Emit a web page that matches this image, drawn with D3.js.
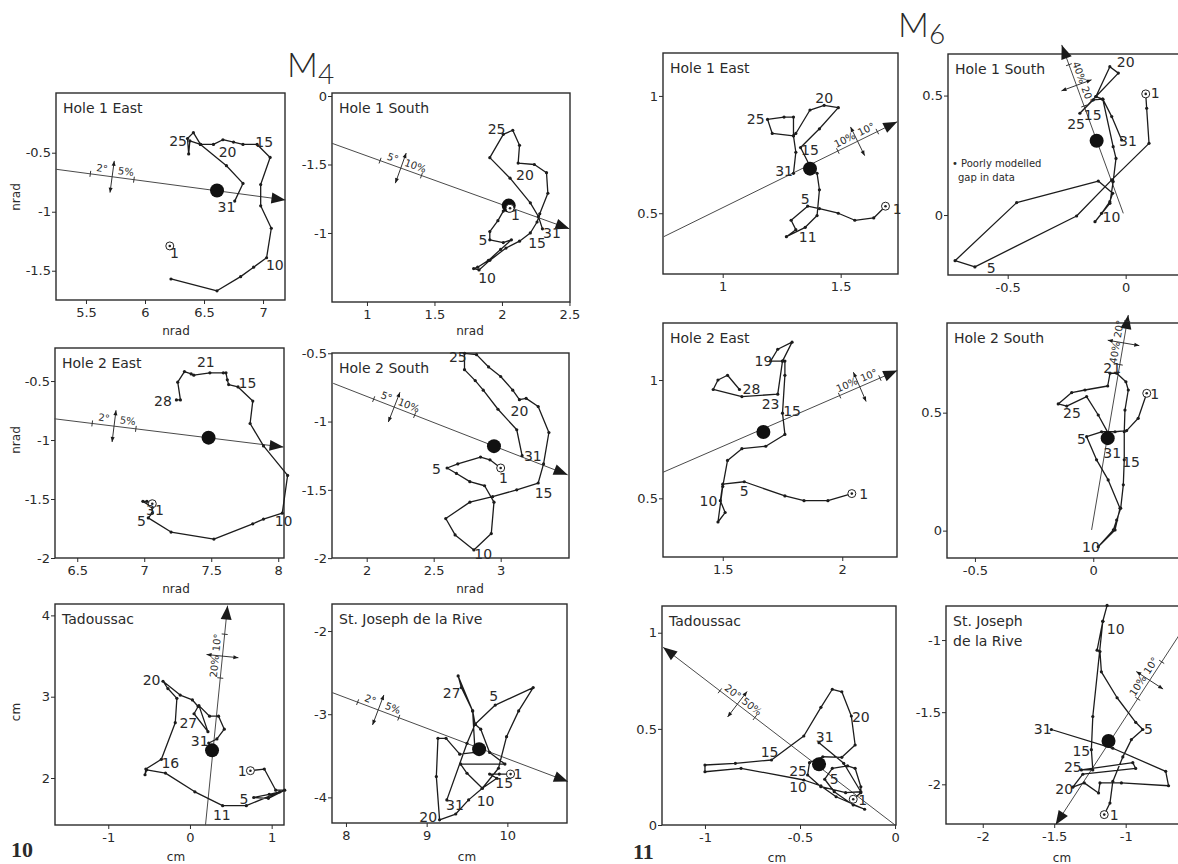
<!DOCTYPE html>
<html>
<head>
<meta charset="utf-8">
<script src="https://cdn.jsdelivr.net/npm/d3@7"></script>
<style>
  body { margin: 0; background: #fff; }
  svg text { font-family: "DejaVu Sans", sans-serif; fill: #2a2a2a; }
</style>
</head>
<body>
<div id="chart"></div>
<script>
const W = 1178, H = 864

// ---------- M4 (fig. 10) : daily tilt / displacement tracks ----------
const m4H1eTrack = [[6.22,-1.57],[6.61,-1.67],[6.81,-1.55],[6.92,-1.47],[7.03,-1.39],[7.07,-1.14],[6.98,-0.95],
  [6.98,-0.77],[7.06,-0.54],[6.95,-0.43],[6.83,-0.43],[6.75,-0.41],[6.66,-0.39],[6.58,-0.43],[6.47,-0.43],
  [6.41,-0.33],[6.36,-0.38],[6.37,-0.51],[6.38,-0.40],[6.47,-0.43],[6.69,-0.61],[6.83,-0.76],[6.76,-0.91]]
const m4H1sTrack = [[2.06,-0.82],[2.01,-0.84],[1.97,-0.91],[1.91,-0.99],[1.91,-1.05],[2.01,-1.07],[2.07,-1.05],
  [1.99,-1.12],[1.90,-1.20],[1.82,-1.25],[1.79,-1.26],[1.83,-1.27],[1.91,-1.20],[2.03,-1.11],[2.13,-1.06],
  [2.21,-1.00],[2.26,-0.92],[2.28,-0.86],[2.34,-0.71],[2.33,-0.56],[2.24,-0.50],[2.12,-0.49],[2.13,-0.36],
  [2.08,-0.25],[2.01,-0.28],[1.91,-0.45],[2.06,-0.60],[2.21,-0.78],[2.27,-0.88],[2.30,-0.97]]
const m4H2eTrack = [[7.06,-1.54],[7.02,-1.52],[6.99,-1.52],[7.06,-1.57],[7.06,-1.62],[7.03,-1.66],[7.20,-1.78],
  [7.52,-1.84],[7.81,-1.71],[7.89,-1.67],[8.03,-1.62],[8.07,-1.30],[7.89,-1.05],[7.79,-0.86],[7.81,-0.67],
  [7.70,-0.55],[7.63,-0.53],[7.62,-0.49],[7.61,-0.43],[7.59,-0.43],[7.49,-0.43],[7.37,-0.45],[7.35,-0.44],
  [7.30,-0.42],[7.25,-0.51],[7.27,-0.66],[7.24,-0.66]]
const m4H2sTrack = [[3.00,-1.34],[2.92,-1.28],[2.85,-1.26],[2.68,-1.31],[2.60,-1.34],[2.67,-1.38],[2.77,-1.44],
  [2.88,-1.47],[2.95,-1.59],[2.93,-1.82],[2.80,-1.94],[2.66,-1.83],[2.59,-1.71],[2.77,-1.59],[2.94,-1.55],
  [3.12,-1.50],[3.28,-1.45],[3.32,-1.31],[3.36,-1.08],[3.28,-0.89],[3.19,-0.83],[3.14,-0.84],[3.09,-0.77],
  [3.00,-0.67],[2.91,-0.60],[2.82,-0.51],[2.73,-0.50],[2.73,-0.62],[2.81,-0.70],[2.87,-0.77],[2.98,-0.91],
  [3.12,-1.06],[3.16,-1.25]]
const m4TadTrack = [[0.74,2.09],[0.91,2.11],[1.05,1.85],[1.16,1.85],[0.96,1.75],[0.78,1.76],[0.97,1.80],
  [1.10,1.83],[0.69,1.66],[0.40,1.66],[0.06,1.83],[-0.30,2.06],[-0.53,2.10],[-0.55,2.04],[-0.54,2.11],
  [-0.35,2.23],[-0.18,2.68],[-0.16,2.98],[-0.27,3.10],[-0.33,3.19],[-0.12,3.02],[0.03,2.96],[0.10,2.88],
  [0.05,2.79],[0.22,2.57],[0.11,2.89],[0.24,2.76],[0.35,2.76],[0.42,2.60],[0.33,2.48],[0.23,2.43]]
const m4StjTrack = [[10.04,-3.72],[9.90,-3.72],[9.78,-3.72],[9.87,-3.77],[9.69,-3.89],[9.50,-3.71],[9.42,-3.60],
  [9.97,-3.60],[9.78,-3.46],[9.67,-3.18],[9.60,-3.12],[9.85,-2.89],[10.32,-2.68],[10.14,-2.96],[9.99,-3.27],
  [9.89,-3.65],[9.69,-3.89],[9.52,-4.03],[9.36,-4.20],[9.16,-4.27],[9.12,-3.75],[9.14,-3.29],[9.24,-3.29],
  [9.41,-3.48],[9.60,-3.46],[9.57,-2.96],[9.43,-2.68],[9.39,-2.54],[9.57,-2.96],[9.60,-3.12],[9.50,-3.35],
  [9.25,-4.03]]

// ---------- M6 (fig. 11) ----------
const m6H1eTrack = [[1.69,0.53],[1.64,0.48],[1.56,0.47],[1.49,0.50],[1.41,0.52],[1.36,0.53],[1.29,0.47],
  [1.31,0.43],[1.27,0.40],[1.35,0.44],[1.40,0.49],[1.41,0.60],[1.40,0.67],[1.37,0.70],[1.33,0.78],[1.41,0.86],
  [1.49,0.95],[1.43,0.96],[1.37,0.94],[1.31,0.84],[1.30,0.83],[1.30,0.91],[1.26,0.91],[1.19,0.90],[1.21,0.84],
  [1.30,0.83],[1.31,0.76],[1.30,0.67]]
const m6H1sTrack = [[0.085,0.507],[0.089,0.447],[0.099,0.300],[-0.059,0.147],[-0.208,-0.004],[-0.639,-0.217],
  [-0.723,-0.191],[-0.462,0.052],[-0.116,0.142],[-0.055,0.091],[-0.067,0.056],[-0.102,0.007],[-0.130,-0.028],
  [-0.067,0.049],[-0.053,0.140],[-0.041,0.237],[-0.053,0.286],[-0.097,0.485],[-0.126,0.496],[-0.067,0.621],
  [-0.031,0.594],[-0.126,0.496],[-0.194,0.426],[-0.137,0.482],[-0.097,0.485],[-0.059,0.412],[-0.017,0.314]]
const m6H2eTrack = [[2.04,0.52],[1.94,0.49],[1.84,0.49],[1.76,0.51],[1.59,0.57],[1.50,0.56],[1.49,0.49],
  [1.51,0.44],[1.48,0.40],[1.50,0.55],[1.52,0.66],[1.58,0.71],[1.68,0.72],[1.76,0.77],[1.75,0.86],[1.76,1.02],
  [1.76,1.08],[1.75,1.08],[1.79,1.16],[1.73,1.13],[1.70,1.08],[1.75,1.08],[1.73,0.94],[1.58,0.93],[1.46,0.96],
  [1.48,1.00],[1.52,1.02],[1.57,0.96]]
const m6H2sTrack = [[0.226,0.582],[0.190,0.476],[0.141,0.424],[0.092,0.419],[0.035,0.419],[-0.028,0.398],
  [0.014,0.300],[0.063,0.215],[0.113,0.095],[0.092,0.003],[0.021,-0.068],[0.085,0.003],[0.099,0.045],
  [0.116,0.095],[0.127,0.194],[0.131,0.300],[0.131,0.419],[0.134,0.511],[0.148,0.596],[0.138,0.631],
  [0.099,0.667],[0.071,0.667],[0.061,0.613],[-0.035,0.596],[-0.091,0.585],[-0.148,0.537],[-0.112,0.528],
  [-0.028,0.568],[0.021,0.490],[0.063,0.413],[0.071,0.392]]
const m6TadTrack = [[-0.22,0.134],[-0.18,0.168],[-0.18,0.199],[-0.21,0.295],[-0.25,0.307],[-0.33,0.295],
  [-0.37,0.238],[-0.32,0.173],[-0.22,0.104],[-0.16,0.082],[-0.31,0.147],[-0.39,0.203],[-0.48,0.234],
  [-0.81,0.295],[-1.00,0.277],[-1.00,0.312],[-0.84,0.321],[-0.65,0.338],[-0.48,0.463],[-0.39,0.612],
  [-0.33,0.706],[-0.28,0.693],[-0.23,0.567],[-0.21,0.416],[-0.28,0.352],[-0.38,0.355],[-0.45,0.324],
  [-0.46,0.260],[-0.39,0.199],[-0.26,0.168],[-0.18,0.173],[-0.27,0.321],[-0.40,0.428]]
const m6StjTrack = [[-1.15,-2.21],[-1.11,-2.13],[-1.09,-1.98],[-1.02,-1.81],[-0.96,-1.69],[-0.88,-1.62],
  [-0.93,-1.57],[-1.06,-1.40],[-1.17,-1.22],[-1.18,-1.08],[-1.20,-1.07],[-1.16,-0.87],[-1.13,-0.76],
  [-1.16,-0.87],[-1.23,-1.53],[-1.24,-1.76],[-1.23,-1.90],[-1.31,-1.90],[-0.95,-1.85],[-0.93,-1.89],
  [-1.30,-1.93],[-1.37,-2.02],[-1.29,-1.99],[-1.19,-2.06],[-1.18,-1.99],[-1.03,-1.99],[-0.70,-2.01],
  [-0.72,-1.91],[-1.09,-1.75],[-1.52,-1.62]]

// day labels [text, x, y]
const m4H1eDays = [['25',6.28,-0.40],['20',6.70,-0.49],['15',7.01,-0.41],['10',7.10,-1.45],['31',6.69,-0.96],['1',6.25,-1.35]]
const m4H1sDays = [['25',1.96,-0.24],['20',2.17,-0.58],['15',2.26,-1.07],['10',1.89,-1.33],['5',1.86,-1.05],['31',2.37,-1.00],['1',2.10,-0.87]]
const m4H2eDays = [['21',7.46,-0.34],['15',7.77,-0.52],['28',7.14,-0.67],['10',8.04,-1.69],['5',6.98,-1.69],['31',7.08,-1.59]]
const m4H2sDays = [['25',2.68,-0.53],['20',3.14,-0.92],['31',3.24,-1.25],['15',3.32,-1.52],['10',2.87,-1.97],['5',2.52,-1.35],['1',3.02,-1.41]]
const m4TadDays = [['20',-0.47,3.21],['27',-0.02,2.68],['31',0.12,2.45],['16',-0.24,2.19],['11',0.39,1.54],['5',0.66,1.74],['1',0.64,2.08]]
const m4StjDays = [['27',9.31,-2.74],['5',9.83,-2.78],['31',9.35,-4.09],['20',9.02,-4.23],['10',9.73,-4.04],['15',9.96,-3.83],['1',10.13,-3.72]]
const m6H1eDays = [['20',1.43,0.99],['25',1.14,0.90],['15',1.37,0.77],['31',1.26,0.68],['5',1.35,0.56],['11',1.36,0.40],['1',1.74,0.52]]
const m6H1sDays = [['20',0.00,0.64],['1',0.125,0.51],['25',-0.21,0.38],['15',-0.14,0.42],['31',0.01,0.31],['10',-0.06,-0.01],['5',-0.57,-0.22]]
const m6H2eDays = [['19',1.67,1.08],['28',1.62,0.96],['23',1.70,0.90],['15',1.79,0.87],['10',1.44,0.49],['5',1.59,0.53],['1',2.09,0.52]]
const m6H2sDays = [['21',0.08,0.69],['1',0.26,0.58],['25',-0.09,0.50],['5',-0.05,0.39],['31',0.08,0.33],['15',0.16,0.29],['10',-0.01,-0.07]]
const m6TadDays = [['20',-0.18,0.56],['31',-0.37,0.46],['15',-0.66,0.38],['25',-0.51,0.28],['10',-0.51,0.20],['5',-0.32,0.24],['1',-0.17,0.13]]
const m6StjDays = [['10',-1.07,-0.92],['5',-0.84,-1.62],['31',-1.58,-1.62],['15',-1.31,-1.77],['25',-1.37,-1.88],['20',-1.43,-2.03],['1',-1.08,-2.21]]

// mean tilt direction [x0, y0, xTip, yTip] and mean position [x, y]
const m4H1eMean = [[5.245,-0.64,7.19,-0.90],[6.61,-0.82]]
const m4H1sMean = [[0.74,-0.345,2.50,-0.97],[2.05,-0.80]]
const m4H2eMean = [[6.33,-0.82,8.04,-1.06],[7.48,-0.98]]
const m4H2sMean = [[1.75,-0.72,3.50,-1.39],[2.95,-1.18]]
const m4TadMean = [[0.19,1.42,0.46,4.12],[0.27,2.34]]
const m4StjMean = [[7.83,-2.74,10.75,-3.81],[9.65,-3.42]]
const m6H1eMean = [[0.75,0.40,1.74,0.89],[1.37,0.69]]
const m6H1sMean = [[-0.01,0.007,-0.271,0.712],[-0.123,0.311]]
const m6H2eMean = [[1.25,0.61,2.23,1.04],[1.67,0.78]]
const m6H2sMean = [[-0.007,0.003,0.148,0.914],[0.061,0.392]]
const m6TadMean = [[0.0,0.0,-1.22,0.924],[-0.40,0.316]]
const m6StjMean = [[-0.55,-0.85,-1.49,-2.28],[-1.12,-1.70]]

// scale bar on the direction line: [position along line, label 1, label 2]
const scaleBars = {
  m4H1e: [0.245,'2°','5%'], m4H1s: [0.29,'5°','10%'], m4H2e: [0.26,'2°','5%'], m4H2s: [0.26,'5°','10%'],
  m4Tad: [0.77,'20%','10°'], m4Stj: [0.195,'2°','5%'], m6H1e: [0.83,'10%','10°'], m6H1s: [0.76,'40%','20°'],
  m6H2e: [0.84,'10%','10°'], m6H2s: [0.87,'40%','20°'], m6Tad: [0.68,'20°','50%'], m6Stj: [0.30,'10%','10°']
}

// axis ticks
const m4H1eTicks = [[5.5,6,6.5,7],[-0.5,-1,-1.5]]
const m4H1sTicks = [[1,1.5,2,2.5],[0,-0.5,-1]]
const m4H1sYLabels = ['0','-1.5','-1']
const m4H2eTicks = [[6.5,7,7.5,8],[-0.5,-1,-1.5,-2]]
const m4H2sTicks = [[2,2.5,3],[-0.5,-1,-1.5,-2]]
const m4TadTicks = [[-1,0,1],[4,3,2]]
const m4StjTicks = [[8,9,10],[-2,-3,-4]]
const m6H1eTicks = [[1,1.5],[1,0.5]]
const m6H1sTicks = [[-0.5,0],[0.5,0]]
const m6H2eTicks = [[1.5,2],[1,0.5]]
const m6H2sTicks = [[-0.5,0],[0.5,0]]
const m6TadTicks = [[-1,-0.5,0],[1,0.5,0]]
const m6StjTicks = [[-2,-1.5,-1],[-1,-1.5,-2]]

const panels = [
  { key:'m4H1e', title:['Hole 1 East'], box:[56,93,285,300], x:[5.246,7.186], y:[-1.748,0.006],
    track:m4H1eTrack, days:m4H1eDays, mean:m4H1eMean, ticks:m4H1eTicks, start:[6.21,-1.29] },
  { key:'m4H1s', title:['Hole 1 South'], box:[332,93,570,302], x:[0.741,2.504], y:[-1.504,0.022],
    track:m4H1sTrack, days:m4H1sDays, mean:m4H1sMean, ticks:m4H1sTicks, yLabels:m4H1sYLabels },
  { key:'m4H2e', title:['Hole 2 East'], box:[55,348,284,558], x:[6.334,8.043], y:[-2.0,-0.22],
    track:m4H2eTrack, days:m4H2eDays, mean:m4H2eMean, ticks:m4H2eTicks },
  { key:'m4H2s', title:['Hole 2 South'], box:[332,353,569,558], x:[1.741,3.51], y:[-1.999,-0.498],
    track:m4H2sTrack, days:m4H2sDays, mean:m4H2sMean, ticks:m4H2sTicks },
  { key:'m4Tad', title:['Tadoussac'], box:[55,604,284,825], x:[-1.652,1.151], y:[1.422,4.14],
    track:m4TadTrack, days:m4TadDays, mean:m4TadMean, ticks:m4TadTicks },
  { key:'m4Stj', title:['St. Joseph  de la Rive'], box:[332,604,567,823], x:[7.827,10.739], y:[-4.308,-1.675],
    track:m4StjTrack, days:m4StjDays, mean:m4StjMean, ticks:m4StjTicks },
  { key:'m6H1e', title:['Hole 1 East'], box:[663,53,898,274], x:[0.747,1.743], y:[0.241,1.183],
    track:m6H1eTrack, days:m6H1eDays, mean:m6H1eMean, ticks:m6H1eTicks },
  { key:'m6H1s', title:['Hole 1 South'], box:[948,54,1183,275], x:[-0.753,0.243], y:[-0.251,0.674],
    track:m6H1sTrack, days:m6H1sDays, mean:m6H1sMean, ticks:m6H1sTicks },
  { key:'m6H2e', title:['Hole 2 East'], box:[663,323,897,557], x:[1.25,2.229], y:[0.252,1.241],
    track:m6H2eTrack, days:m6H2eDays, mean:m6H2eMean, ticks:m6H2eTicks },
  { key:'m6H2s', title:['Hole 2 South'], box:[947,323,1182,558], x:[-0.618,0.375], y:[-0.116,0.88],
    track:m6H2sTrack, days:m6H2sDays, mean:m6H2sMean, ticks:m6H2sTicks },
  { key:'m6Tad', title:['Tadoussac'], box:[662,606,896,825], x:[-1.226,0.005], y:[0,1.139],
    track:m6TadTrack, days:m6TadDays, mean:m6TadMean, ticks:m6TadTicks },
  { key:'m6Stj', title:['St. Joseph','de la Rive'], box:[946,606,1181,824], x:[-2.257,-0.613], y:[-2.275,-0.764],
    track:m6StjTrack, days:m6StjDays, mean:m6StjMean, ticks:m6StjTicks }
]

const axisTitles = [
  ['nrad', 176, 331, 0], ['nrad', 470, 331, 0], ['nrad', 176, 589, 0], ['nrad', 470, 589, 0],
  ['cm', 176, 857, 0], ['cm', 467, 857, 0], ['cm', 777, 858, 0], ['cm', 1062, 858, 0],
  ['nrad', 16, 197, -90], ['nrad', 16, 440, -90], ['cm', 16, 712, -90]
]

const svg = d3.select('#chart').append('svg')
  .attr('width', W)
  .attr('height', H)
  .style('background', '#fff')

function arrowHead(g, x1, y1, x2, y2, len, w) {
  const a = Math.atan2(y2 - y1, x2 - x1)
  const bx = x2 - len * Math.cos(a), by = y2 - len * Math.sin(a)
  const nx = -Math.sin(a) * w, ny = Math.cos(a) * w
  g.append('path')
    .attr('d', `M${x2},${y2}L${bx + nx},${by + ny}L${bx - nx},${by - ny}Z`)
    .attr('fill', '#1a1a1a')
}

function drawPanel(p) {
  const [l, t, r, b] = p.box
  const x = d3.scaleLinear().domain(p.x).range([l, r])
  const y = d3.scaleLinear().domain(p.y).range([b, t])
  const g = svg.append('g')

  g.append('rect')
    .attr('x', l).attr('y', t)
    .attr('width', r - l).attr('height', b - t)
    .attr('fill', 'none')
    .attr('stroke', '#2b2b2b')
    .attr('stroke-width', 1.4)

  const xAxis = d3.axisBottom(x)
    .tickValues(p.ticks[0])
    .tickFormat(d => String(d))
    .tickSize(4)
    .tickPadding(4)
  const yAxis = d3.axisLeft(y)
    .tickValues(p.ticks[1])
    .tickFormat((d, i) => p.yLabels ? p.yLabels[i] : String(d))
    .tickSize(4)
    .tickPadding(1)

  g.append('g')
    .attr('transform', `translate(0,${b})`)
    .call(xAxis)
    .attr('font-size', 13)
    .attr('color', '#2b2b2b')
    .call(a => a.select('.domain').remove())
  g.append('g')
    .attr('transform', `translate(${l},0)`)
    .call(yAxis)
    .attr('font-size', 13)
    .attr('color', '#2b2b2b')
    .call(a => a.select('.domain').remove())

  p.title.forEach((s, i) => {
    g.append('text')
      .attr('x', l + 7)
      .attr('y', t + 20 + i * 20)
      .attr('font-size', 14)
      .text(s)
  })

  // mean direction line + arrow
  const [m, c] = p.mean
  const x0 = x(m[0]), y0 = y(m[1]), x1 = x(m[2]), y1 = y(m[3])
  g.append('line')
    .attr('x1', x0).attr('y1', y0).attr('x2', x1).attr('y2', y1)
    .attr('stroke', '#4a4a4a')
    .attr('stroke-width', 1)
  arrowHead(g, x0, y0, x1, y1, 14, 5.5)

  // scale bar across the direction line
  const sb = scaleBars[p.key]
  const L = Math.hypot(x1 - x0, y1 - y0)
  const ux = (x1 - x0) / L, uy = (y1 - y0) / L
  const nx = -uy, ny = ux
  const px = x0 + (x1 - x0) * sb[0], py = y0 + (y1 - y0) * sb[0]
  ;[-22, 22].forEach(o => {
    g.append('line')
      .attr('x1', px + ux * o - nx * 3).attr('y1', py + uy * o - ny * 3)
      .attr('x2', px + ux * o + nx * 3).attr('y2', py + uy * o + ny * 3)
      .attr('stroke', '#333')
  })
  const ax = px - nx * 16, ay = py - ny * 16, bx = px + nx * 16, by = py + ny * 16
  g.append('line')
    .attr('x1', ax).attr('y1', ay).attr('x2', bx).attr('y2', by)
    .attr('stroke', '#333')
  arrowHead(g, bx, by, ax, ay, 5, 2)
  arrowHead(g, ax, ay, bx, by, 5, 2)
  let ang = Math.atan2(uy, ux) * 180 / Math.PI
  if (ang > 90) ang -= 180
  if (ang < -90) ang += 180
  const side = (ny < 0) ? 1 : -1
  ;[[sb[1], -11], [sb[2], 13]].forEach(([s, o]) => {
    const tx = px + ux * o * Math.sign(ux || 1) + nx * 7 * side
    const ty = py + uy * o * Math.sign(ux || 1) + ny * 7 * side
    g.append('text')
      .attr('x', tx).attr('y', ty)
      .attr('font-size', 10)
      .attr('text-anchor', 'middle')
      .attr('dominant-baseline', 'central')
      .attr('transform', `rotate(${ang},${tx},${ty})`)
      .text(s)
  })

  // track
  const line = d3.line().x(d => x(d[0])).y(d => y(d[1]))
  g.append('path')
    .attr('d', line(p.track))
    .attr('fill', 'none')
    .attr('stroke', '#1c1c1c')
    .attr('stroke-width', 1.3)
    .attr('stroke-linejoin', 'round')
  g.selectAll(null)
    .data(p.track)
    .enter()
    .append('circle')
    .attr('cx', d => x(d[0]))
    .attr('cy', d => y(d[1]))
    .attr('r', 1.6)
    .attr('fill', '#1c1c1c')

  // mean position
  g.append('circle')
    .attr('cx', x(c[0])).attr('cy', y(c[1]))
    .attr('r', 7)
    .attr('fill', '#111')

  // day 1 marker
  const s = p.start || p.track[0]
  g.append('circle')
    .attr('cx', x(s[0])).attr('cy', y(s[1]))
    .attr('r', 4)
    .attr('fill', '#fff')
    .attr('stroke', '#222')
    .attr('stroke-width', 1)
  g.append('circle')
    .attr('cx', x(s[0])).attr('cy', y(s[1]))
    .attr('r', 1.3)
    .attr('fill', '#222')

  g.selectAll(null)
    .data(p.days)
    .enter()
    .append('text')
    .attr('x', d => x(d[1]))
    .attr('y', d => y(d[2]))
    .attr('font-size', 14)
    .attr('text-anchor', 'middle')
    .attr('dominant-baseline', 'central')
    .text(d => d[0])
}

panels.forEach(drawPanel)

// note in M6 hole 1 south
svg.append('text').attr('x', 952).attr('y', 167).attr('font-size', 10).text('• Poorly modelled')
svg.append('text').attr('x', 958).attr('y', 181).attr('font-size', 10).text('gap in data')

axisTitles.forEach(([s, tx, ty, rot]) => {
  svg.append('text')
    .attr('x', tx).attr('y', ty)
    .attr('font-size', 12)
    .attr('text-anchor', 'middle')
    .attr('dominant-baseline', 'central')
    .attr('transform', `rotate(${rot},${tx},${ty})`)
    .text(s)
})

// group headings
const heading = (tx, ty, main, sub) => {
  const t = svg.append('text')
    .attr('x', tx).attr('y', ty)
    .attr('font-size', 34)
    .style('font-family', 'Lato, "DejaVu Sans", sans-serif')
    .style('font-weight', 300)
  t.append('tspan').text(main)
  t.append('tspan').attr('dy', 7).attr('font-size', 28).text(sub)
}
heading(287, 77, 'M', '4')
heading(898, 37, 'M', '6')

svg.append('text').attr('x', 11).attr('y', 857)
  .style('font-family', '"Liberation Serif", serif').style('font-weight', 'bold')
  .attr('font-size', 22).text('10')
svg.append('text').attr('x', 633).attr('y', 859)
  .style('font-family', '"Liberation Serif", serif').style('font-weight', 'bold')
  .attr('font-size', 22).text('11')
</script>
</body>
</html>
